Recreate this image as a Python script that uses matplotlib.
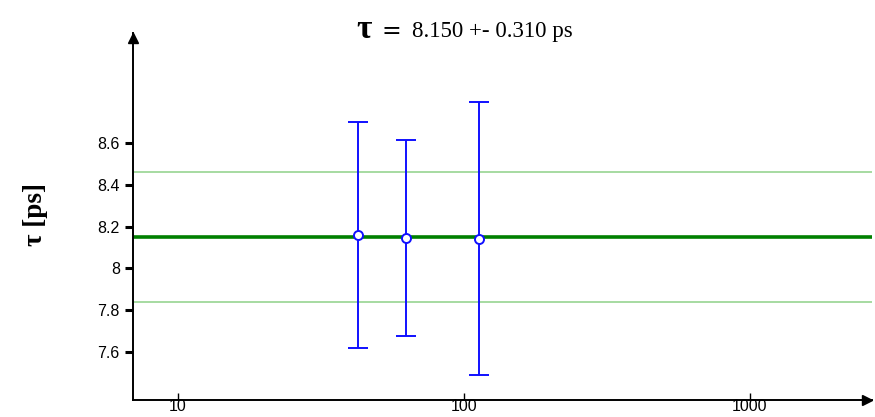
import matplotlib
matplotlib.use("Agg")
import matplotlib.pyplot as plt
import matplotlib.transforms as mtransforms
import numpy as np

# Lifetime measurements
x_vals = [42.5, 62.7, 112.8]
tau_vals = [8.159, 8.145, 8.142]
tau_errs = [0.540, 0.467, 0.652]

tau_mean = 8.150
tau_sigma = 0.310

x_ticks = [10, 100, 1000]
x_tick_labels = ["10", "100", "1000"]
y_ticks = [7.6, 7.8, 8.0, 8.2, 8.4, 8.6]
y_tick_labels = ["7.6", "7.8", "8", "8.2", "8.4", "8.6"]

fig = plt.figure(figsize=(8.75, 4.17), dpi=100)
ax = fig.add_axes([133 / 875, 17 / 417, 739 / 875, 367 / 417])

ax.set_xscale("log")
ax.set_xlim(6.96, 2671)
ax.set_ylim(7.370, 9.126)

# mean and one-sigma band
ax.axhline(tau_mean, color="#008000", lw=2.6, zorder=2)
ax.axhline(tau_mean + tau_sigma, color="#9fd89a", lw=1.3, zorder=1)
ax.axhline(tau_mean - tau_sigma, color="#9fd89a", lw=1.3, zorder=1)

ax.errorbar(x_vals, tau_vals, yerr=tau_errs, fmt="o", color="#1010ff",
            ecolor="#1010ff", elinewidth=1.4, capsize=7, capthick=1.6,
            markerfacecolor="white", markeredgecolor="#1010ff",
            markeredgewidth=1.4, markersize=6.5, zorder=3)

for s in ["top", "right"]:
    ax.spines[s].set_visible(False)
for s in ["left", "bottom"]:
    ax.spines[s].set_linewidth(1.4)

# axis arrows, pulled back so their tips sit on the spine ends
right_tr = mtransforms.offset_copy(ax.transAxes, fig=fig, x=-5, y=0, units="dots")
top_tr = mtransforms.offset_copy(ax.transAxes, fig=fig, x=0, y=-5, units="dots")
ax.plot(1, 0, ">", color="k", markersize=7.5, transform=right_tr, clip_on=False)
ax.plot(0, 1, "^", color="k", markersize=7.5, transform=top_tr, clip_on=False)

ax.set_xticks(x_ticks)
ax.set_xticklabels(x_tick_labels)
ax.xaxis.set_minor_locator(matplotlib.ticker.NullLocator())
ax.set_yticks(y_ticks)
ax.set_yticklabels(y_tick_labels)

ax.tick_params(axis="y", direction="out", length=6, width=2.2, pad=3.5,
               labelsize=11.5)
ax.tick_params(axis="x", direction="in", length=5, width=1.0, pad=-1,
               labelsize=11.5)
for lab in ax.get_xticklabels() + ax.get_yticklabels():
    lab.set_family("Liberation Sans")

# title and y label
base = 1 - 37.5 / 417
fig.text(356 / 875, base, "τ", family="Liberation Serif", fontsize=24,
         fontweight="bold", ha="left", va="baseline")
fig.text(381 / 875, base, "=", family="DejaVu Sans", fontsize=17,
         ha="left", va="baseline")
fig.text(412 / 875, base, "8.150 +- 0.310 ps", family="Liberation Serif",
         fontsize=16.5, ha="left", va="baseline")
fig.text(35 / 875, 1 - 215 / 417, "τ [ps]", family="Liberation Serif",
         fontsize=19.5, fontweight="bold", rotation=90, ha="center", va="center")

fig.savefig("out.png", dpi=100)
